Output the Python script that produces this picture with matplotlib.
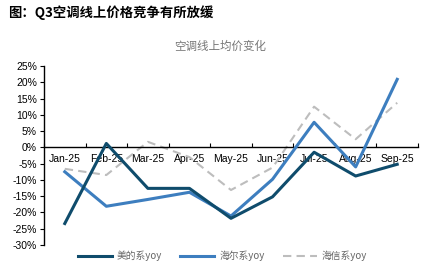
import numpy as np
import matplotlib.pyplot as plt
from matplotlib.ticker import FuncFormatter

plt.rcParams['font.family'] = ['Liberation Sans', 'Noto Sans CJK SC', 'DejaVu Sans']

months = ['Jan-25', 'Feb-25', 'Mar-25', 'Apr-25', 'May-25', 'Jun-25', 'Jul-25', 'Aug-25', 'Sep-25']
midea = [-23.4, 1.2, -12.6, -12.6, -21.8, -15.2, -1.5, -8.8, -5.2]
haier = [-7.5, -18.1, -16.0, -13.8, -21.1, -9.8, 7.7, -6.0, 20.9]
hisense = [-6.6, -8.5, 1.7, -3.0, -13.1, -6.2, 12.5, 2.5, 13.7]

fig = plt.figure(figsize=(4.28, 2.76), dpi=100)
ax = fig.add_axes([0.1028, 0.1123, 0.8738, 0.6486])

x = np.arange(len(months))
ax.plot(x, midea, color='#0f4c6c', lw=2.2, label='美的系yoy', zorder=4)
ax.plot(x, haier, color='#3d7ebf', lw=2.2, label='海尔系yoy', zorder=3)
ax.plot(x, hisense, color='#bdbdbd', lw=1.5, ls=(0, (4, 2.5)), label='海信系yoy', zorder=2)

ax.set_xlim(-0.5, 8.5)
ax.set_ylim(-30, 25)
ax.set_yticks(np.arange(-30, 26, 5))
ax.yaxis.set_major_formatter(FuncFormatter(lambda v, p: f'{v:.0f}%'))

# x axis sits at zero, ticks at the category boundaries
ax.spines['bottom'].set_position(('data', 0))
ax.spines['top'].set_visible(False)
ax.spines['right'].set_visible(False)
ax.spines['left'].set_linewidth(1.0)
ax.spines['bottom'].set_linewidth(1.0)
ax.set_xticks(np.arange(-0.5, 9, 1))
ax.set_xticklabels([])
ax.set_xticks(x, minor=True)
ax.set_xticklabels(months, minor=True)
ax.tick_params(axis='x', which='major', direction='in', length=3, width=0.8)
ax.tick_params(axis='x', which='minor', length=0, pad=5, labelsize=7.5)
ax.tick_params(axis='y', direction='out', length=3, width=0.8, labelsize=7.5, pad=2)
for lab in ax.get_xticklabels(minor=True):
    lab.set_zorder(1)

fig.text(0.019, 0.955, '图：Q3空调线上价格竞争有所放缓', fontsize=9.6, fontweight='bold',
         va='center', ha='left', family=['Noto Sans CJK SC', 'DejaVu Sans'])
fig.text(0.514, 0.831, '空调线上均价变化', fontsize=8.3, color='#777777',
         va='center', ha='center', family=['Noto Sans CJK SC', 'DejaVu Sans'])

leg = ax.legend(loc='center', bbox_to_anchor=(0.477, -0.062), ncol=3, frameon=False,
                fontsize=7, handlelength=3.5, columnspacing=1.9, handletextpad=0.5)
for t in leg.get_texts():
    t.set_color('#666666')
    t.set_fontfamily(['Noto Sans CJK SC', 'DejaVu Sans'])

fig.savefig('out.png', dpi=100)
